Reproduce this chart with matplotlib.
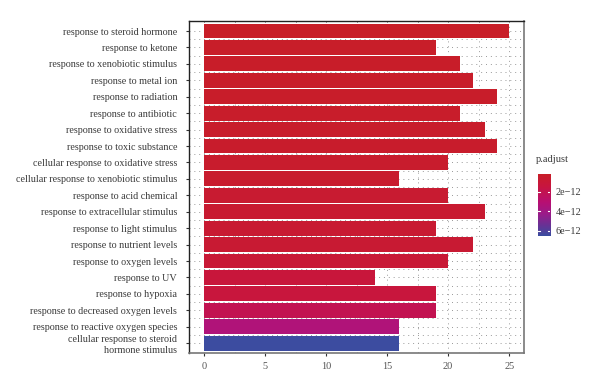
import matplotlib
matplotlib.use("Agg")
import matplotlib.pyplot as plt
import numpy as np
from matplotlib.colors import LinearSegmentedColormap, Normalize
from matplotlib.ticker import MultipleLocator

terms = [
    "response to steroid hormone",
    "response to ketone",
    "response to xenobiotic stimulus",
    "response to metal ion",
    "response to radiation",
    "response to antibiotic",
    "response to oxidative stress",
    "response to toxic substance",
    "cellular response to oxidative stress",
    "cellular response to xenobiotic stimulus",
    "response to acid chemical",
    "response to extracellular stimulus",
    "response to light stimulus",
    "response to nutrient levels",
    "response to oxygen levels",
    "response to UV",
    "response to hypoxia",
    "response to decreased oxygen levels",
    "response to reactive oxygen species",
    "cellular response to steroid\nhormone stimulus",
]
counts = [25, 19, 21, 22, 24, 21, 23, 24, 20, 16, 20, 23, 19, 22, 20, 14, 19, 19, 16, 16]
p_adjust = [2.0e-13, 2.2e-13, 2.5e-13, 2.7e-13, 3.0e-13, 3.3e-13, 3.6e-13, 4.0e-13, 4.5e-13, 5.0e-13,
            6.5e-13, 7.0e-13, 7.5e-13, 8.0e-13, 9.5e-13, 1.25e-12, 1.35e-12, 2.0e-12, 3.4e-12, 6.5e-12]
cbar_ticks = [2e-12, 4e-12, 6e-12]
x_ticks = [0, 5, 10, 15, 20, 25]

plt.rcParams['font.family'] = ['Liberation Serif', 'DejaVu Serif']

cmap = LinearSegmentedColormap.from_list(
    "rb", [(0.0, "#C81E28"), (0.2, "#C8153F"), (0.45, "#B80F72"),
           (0.65, "#9A1C8A"), (0.82, "#6A3195"), (1.0, "#3A4DA0")])
vmin, vmax = 1.7e-13, 6.55e-12
norm = Normalize(vmin=vmin, vmax=vmax)

fig = plt.figure(figsize=(6.0, 3.92), dpi=100)
ax = fig.add_axes([0.315, 0.0995, 0.559, 0.8465])

n = len(terms)
ypos = np.arange(n, 0, -1)
colors = [cmap(norm(p)) for p in p_adjust]
ax.barh(ypos, counts, height=0.9, color=colors, edgecolor="none", zorder=2)

ax.set_ylim(0.4, n + 0.6)
ax.set_xlim(-1.25, 26.25)
ax.set_yticks(ypos)
ax.set_yticklabels(terms, fontsize=7.3, color="#3a3a3a", linespacing=1.3)
ax.set_xticks(x_ticks)
ax.set_xticklabels([str(t) for t in x_ticks], fontsize=7.4, color="#555555")
ax.xaxis.set_minor_locator(MultipleLocator(2.5))
ax.set_yticks(ypos[:-1] - 0.5, minor=True)
ax.tick_params(axis="y", which="major", length=2.5, width=0.8, color="#333333", pad=6)
ax.tick_params(axis="x", which="major", length=2.5, width=0.8, color="#333333", pad=4)
ax.tick_params(axis="both", which="minor", length=0)

ax.grid(True, which="both", linestyle=(0, (1, 4)), color="#999999", linewidth=0.7, zorder=0)
ax.set_axisbelow(True)
for side in ["left", "top"]:
    ax.spines[side].set_color("#222222")
    ax.spines[side].set_linewidth(1.0)
for side in ["right", "bottom"]:
    ax.spines[side].set_color("#777777")
    ax.spines[side].set_linewidth(1.2)

cax = fig.add_axes([0.896, 1 - 236 / 392, 0.021, 62 / 392])
grad = np.linspace(vmin, vmax, 256).reshape(-1, 1)
cax.imshow(grad, aspect="auto", cmap=cmap, norm=norm, origin="lower",
           extent=[0, 1, vmin, vmax])
cax.set_xticks([])
cax.yaxis.tick_right()
cax.set_yticks(cbar_ticks)
cax.set_yticklabels(["2e\u221212", "4e\u221212", "6e\u221212"], fontsize=7.4, color="#3a3a3a")
cax.tick_params(axis="y", length=0, pad=4)
for t in cbar_ticks:
    cax.plot([0, 0.2], [t, t], color="white", lw=0.8)
    cax.plot([0.8, 1], [t, t], color="white", lw=0.8)
cax.set_xlim(0, 1)
cax.set_ylim(vmin, vmax)
cax.invert_yaxis()
for s in cax.spines.values():
    s.set_visible(False)
fig.text(0.893, 1 - 160 / 392, "p.adjust", fontsize=7.6, color="#3a3a3a", va="center", ha="left")

fig.savefig("out.png", dpi=100)
